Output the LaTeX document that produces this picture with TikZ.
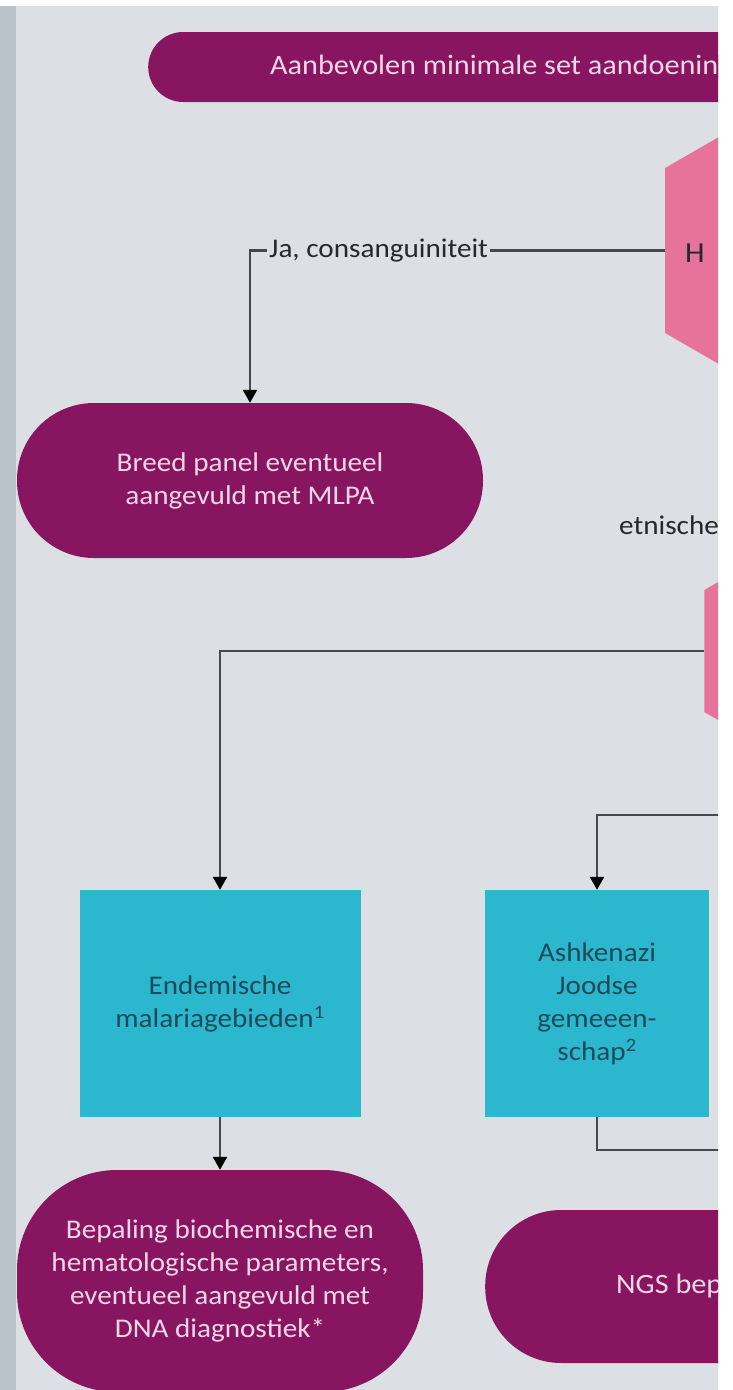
\documentclass[tikz,border=0pt]{standalone}
\usepackage{fontspec}
\setmainfont{Carlito}[FakeStretch=1.08]
\usepackage{tikz}
\usepackage{xcolor}
\usetikzlibrary{positioning,arrows.meta,shapes.geometric}
\definecolor{paars}{HTML}{87155F}
\definecolor{roze}{HTML}{F6D6E7}
\definecolor{hexroze}{HTML}{E8739A}
\definecolor{cyaan}{HTML}{2BB8CF}
\definecolor{petrol}{HTML}{1E4A5A}
\definecolor{achtergrond}{HTML}{DCE0E4}
\definecolor{strook}{HTML}{B9C1C9}
\definecolor{lijngrijs}{HTML}{45494E}
\definecolor{tekstgrijs}{HTML}{26282B}

\begin{document}
\begin{tikzpicture}[
          x=1pt, y=-1pt,
          every node/.style={font=\fontsize{27}{33}\selectfont},
          pil/.style={fill=paars, text=roze, align=center, inner sep=0pt},
          vak/.style={fill=cyaan, text=petrol, align=center, inner sep=0pt},
          zeshoek/.style={regular polygon, regular polygon sides=6, shape border rotate=30, fill=hexroze, inner sep=0pt},
          lijn/.style={draw=lijngrijs, line width=2.4pt},
          pijl/.style={lijn, -{Triangle[width=14pt,length=13pt,color=black]}},
          lbl/.style={text=tekstgrijs, inner sep=0pt}
      ]
        \useasboundingbox (0,0) rectangle (732,1390);
        \fill[white] (0,0) rectangle (732,1390);
        \fill[strook] (0,6) rectangle (16,1390);
        \fill[achtergrond] (16,6) rectangle (718,1390);
        \begin{scope}
        \clip (16,6) rectangle (718,1390);
        \node[pil, rounded corners=35pt, minimum width=700pt, minimum height=70pt, anchor=west] (titel) at (148,67) {};
        \node[pil, anchor=west, font=\fontsize{28}{33}\selectfont] (titeltekst) at (270,67) {Aanbevolen minimale set aandoening};
        \node[zeshoek, minimum size=330pt] (consang) at (808,250.5) {};
        \node[lbl, anchor=west, font=\fontsize{29}{33}\selectfont] (consangtekst) at (685,253) {H};
        \node[pil, rounded corners=77pt, minimum width=466pt, minimum height=155pt] (breed) at (250,480.5)
          {Breed panel eventueel\\aangevuld met MLPA};
        \node[lbl, anchor=west] (etnischtekst) at (619,525) {etnische};
        \node[zeshoek, minimum size=244pt] (etnisch) at (810,651) {};
        \node[vak, minimum width=281pt, minimum height=227pt] (endem) at (220,1003.5)
          {Endemische\\malariagebieden\textsuperscript{1}};
        \node[vak, minimum width=224pt, minimum height=227pt] (ashk) at (597,1003.5)
          {Ashkenazi\\Joodse\\gemeeen-\\schap\textsuperscript{2}};
        \node[pil, rounded corners=100pt, minimum width=406pt, minimum height=222pt] (bepaling) at (220,1281)
          {Bepaling biochemische en\\hematologische parameters,\\eventueel aangevuld met\\DNA diagnostiek*};
        \node[pil, rounded corners=76pt, minimum width=500pt, minimum height=153pt, anchor=west] (ngs) at (485,1286.5) {};
        \node[pil, anchor=west, font=\fontsize{28}{33}\selectfont] (ngstekst) at (616,1286.5) {NGS bep};
        \coordinate (rechts1) at (730,815);
        \coordinate (rechts2) at (730,1150);
        \draw[pijl] (consang.west) -| node[lbl, pos=0.345, fill=achtergrond, inner sep=2pt] {Ja, consanguiniteit} (breed.north);
        \draw[pijl] (etnisch.west) -| (endem.north);
        \draw[pijl] (rechts1) -| (ashk.north);
        \draw[pijl] (endem.south) -- (bepaling.north);
        \draw[lijn] (ashk.south) |- (rechts2);
        \end{scope}
      \end{tikzpicture}
\end{document}
